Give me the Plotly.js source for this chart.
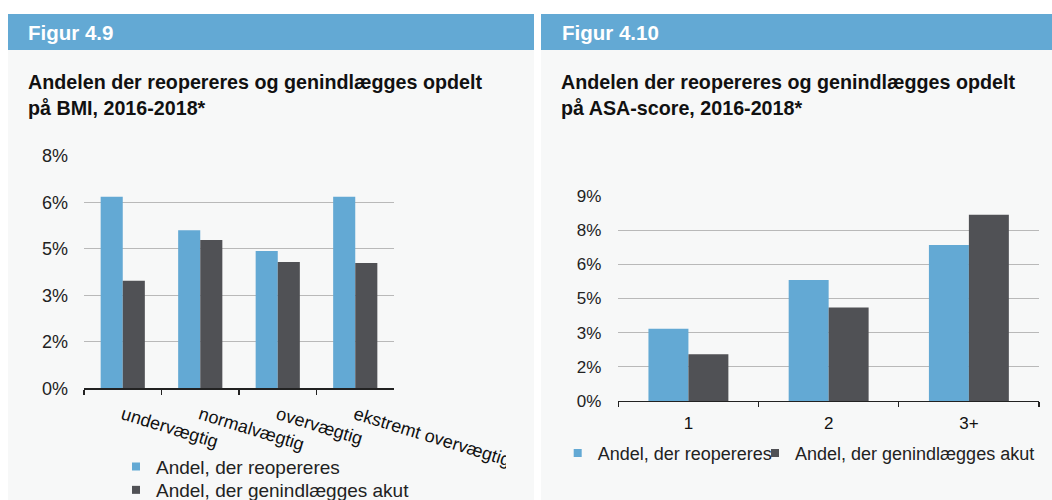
<!DOCTYPE html>
<html><head><meta charset="utf-8">
<script src="https://cdn.plot.ly/plotly-3.0.1.min.js"></script>
<style>html,body{margin:0;padding:0;background:#fff;width:1052px;height:500px;overflow:hidden}#chart{position:absolute;left:0;top:0;width:1052px;height:500px;overflow:hidden}</style>
</head><body><div id="chart"></div>
<script>
// ---- data ----
const bmiCategories = ['undervægtig', 'normalvægtig', 'overvægtig', 'ekstremt overvægtig'];
const bmiReoperated = [6.18, 5.10, 4.43, 6.18];
const bmiReadmitted = [3.47, 4.78, 4.07, 4.04];
const asaCategories = ['1', '2', '3+'];
const asaReoperated = [3.17, 5.31, 6.85];
const asaReadmitted = [2.05, 4.11, 8.18];
const bmiTickVals = [0, 1.5, 3, 4.5, 6, 7.5];
const bmiTickText = ['0%', '2%', '3%', '5%', '6%', '8%'];
const asaTickVals = [0, 1.5, 3, 4.5, 6, 7.5, 9];
const asaTickText = ['0%', '2%', '3%', '5%', '6%', '8%', '9%'];
const seriesNames = ['Andel, der reopereres', 'Andel, der genindlægges akut'];
const panelHeaders = ['Figur 4.9', 'Figur 4.10'];
const panelTitles = [
  'Andelen der reopereres og genindlægges opdelt<br>på BMI, 2016-2018*',
  'Andelen der reopereres og genindlægges opdelt<br>på ASA-score, 2016-2018*'
];

// ---- style ----
const W = 1052, H = 500;
const px = x => x / W;
const py = y => 1 - y / H;
const BLUE = '#63a9d4';
const DARK = '#505155';
const PANEL = '#f7f8f8';
const FONT = 'Liberation Sans, Arial, Helvetica, sans-serif';
const TXT = '#222222';

function bar(x, y, color, xa, ya) {
  return {type: 'bar', x: x, y: y, xaxis: xa, yaxis: ya, marker: {color: color},
          showlegend: false, hoverinfo: 'skip'};
}
function legendProxy(name, color, xa, ya, leg) {
  return {type: 'scatter', mode: 'markers', x: [null], y: [null], xaxis: xa, yaxis: ya,
          name: name, legend: leg, marker: {symbol: 'square', size: 8, color: color},
          hoverinfo: 'skip'};
}

const data = [
  bar(bmiCategories, bmiReoperated, BLUE, 'x', 'y'),
  bar(bmiCategories, bmiReadmitted, DARK, 'x', 'y'),
  bar(asaCategories, asaReoperated, BLUE, 'x2', 'y2'),
  bar(asaCategories, asaReadmitted, DARK, 'x2', 'y2'),
  legendProxy(seriesNames[0], BLUE, 'x', 'y', 'legend'),
  legendProxy(seriesNames[1], DARK, 'x', 'y', 'legend4'),
  legendProxy(seriesNames[0], BLUE, 'x2', 'y2', 'legend2'),
  legendProxy(seriesNames[1], DARK, 'x2', 'y2', 'legend3')
];

const xBase = {
  type: 'category', showline: true, linecolor: '#222', linewidth: 1.3,
  ticks: 'outside', ticklen: 5, tickcolor: '#222', tickwidth: 1.3, tickson: 'boundaries',
  showgrid: false, zeroline: false, fixedrange: true, automargin: false
};
const yBase = {
  showgrid: true, gridcolor: '#b9b9b9', gridwidth: 1, zeroline: false, showline: false,
  ticks: '', fixedrange: true, automargin: false
};
function legendAt(x, y, size) {
  return {orientation: 'h', x: px(x), y: py(y), xanchor: 'left', yanchor: 'middle',
    bgcolor: 'rgba(0,0,0,0)', font: {size: size, color: TXT}, itemwidth: 30};
}

const layout = {
  width: W, height: H, autosize: false,
  margin: {l: 0, r: 0, t: 0, b: 0, autoexpand: false},
  paper_bgcolor: '#ffffff', plot_bgcolor: 'rgba(0,0,0,0)',
  font: {family: FONT, color: TXT},
  barmode: 'group', bargap: 0.43, bargroupgap: 0,
  xaxis: Object.assign({}, xBase, {domain: [px(84), px(394)], anchor: 'y',
    tickangle: 17, tickfont: {size: 18, color: '#111'}, ticklabelstandoff: 8}),
  yaxis: Object.assign({}, yBase, {domain: [py(388.3), py(155.7)], anchor: 'x',
    range: [0, 7.5], tickvals: bmiTickVals, ticktext: bmiTickText, ticklabelstandoff: 15,
    tickfont: {size: 18, color: TXT}}),
  xaxis2: Object.assign({}, xBase, {domain: [px(618.3), px(1039)], anchor: 'y2',
    tickangle: 0, tickfont: {size: 17, color: '#111'}, ticklabelstandoff: 6}),
  yaxis2: Object.assign({}, yBase, {domain: [py(401), py(196)], anchor: 'x2',
    range: [0, 9], tickvals: asaTickVals, ticktext: asaTickText, ticklabelstandoff: 16,
    tickfont: {size: 17, color: TXT}}),
  legend: legendAt(116, 466.7, 19),
  legend4: legendAt(116, 490, 19),
  legend2: legendAt(557.7, 453.3, 18),
  legend3: legendAt(755, 453.3, 18),
  shapes: [
    {type: 'rect', xref: 'paper', yref: 'paper', layer: 'below', x0: px(8), x1: px(534), y0: py(500), y1: py(50), fillcolor: PANEL, line: {width: 0}},
    {type: 'rect', xref: 'paper', yref: 'paper', layer: 'below', x0: px(8), x1: px(534), y0: py(50), y1: py(14), fillcolor: BLUE, line: {width: 0}},
    {type: 'rect', xref: 'paper', yref: 'paper', layer: 'below', x0: px(541), x1: px(1052), y0: py(500), y1: py(50), fillcolor: PANEL, line: {width: 0}},
    {type: 'rect', xref: 'paper', yref: 'paper', layer: 'below', x0: px(541), x1: px(1052), y0: py(50), y1: py(14), fillcolor: BLUE, line: {width: 0}},
    // clip of the last rotated label, as in the original
    {type: 'rect', xref: 'paper', yref: 'paper', layer: 'above', x0: px(506), x1: px(534), y0: py(480), y1: py(400), fillcolor: PANEL, line: {width: 0}}
  ],
  annotations: [
    {text: panelHeaders[0], xref: 'paper', yref: 'paper', x: px(26), y: py(32), xanchor: 'left', yanchor: 'middle', showarrow: false, font: {size: 20.5, color: '#ffffff', family: FONT, weight: 'bold'}},
    {text: panelHeaders[1], xref: 'paper', yref: 'paper', x: px(560), y: py(32), xanchor: 'left', yanchor: 'middle', showarrow: false, font: {size: 20.5, color: '#ffffff', family: FONT, weight: 'bold'}},
    {text: panelTitles[0], xref: 'paper', yref: 'paper', x: px(25.5), y: py(68.5), xanchor: 'left', yanchor: 'top', align: 'left', showarrow: false, font: {size: 19.7, color: '#111', family: FONT, weight: 'bold'}},
    {text: panelTitles[1], xref: 'paper', yref: 'paper', x: px(559), y: py(68.5), xanchor: 'left', yanchor: 'top', align: 'left', showarrow: false, font: {size: 19.7, color: '#111', family: FONT, weight: 'bold'}}
  ]
};

Plotly.newPlot('chart', data, layout, {displayModeBar: false, staticPlot: true});
</script>
</body></html>
